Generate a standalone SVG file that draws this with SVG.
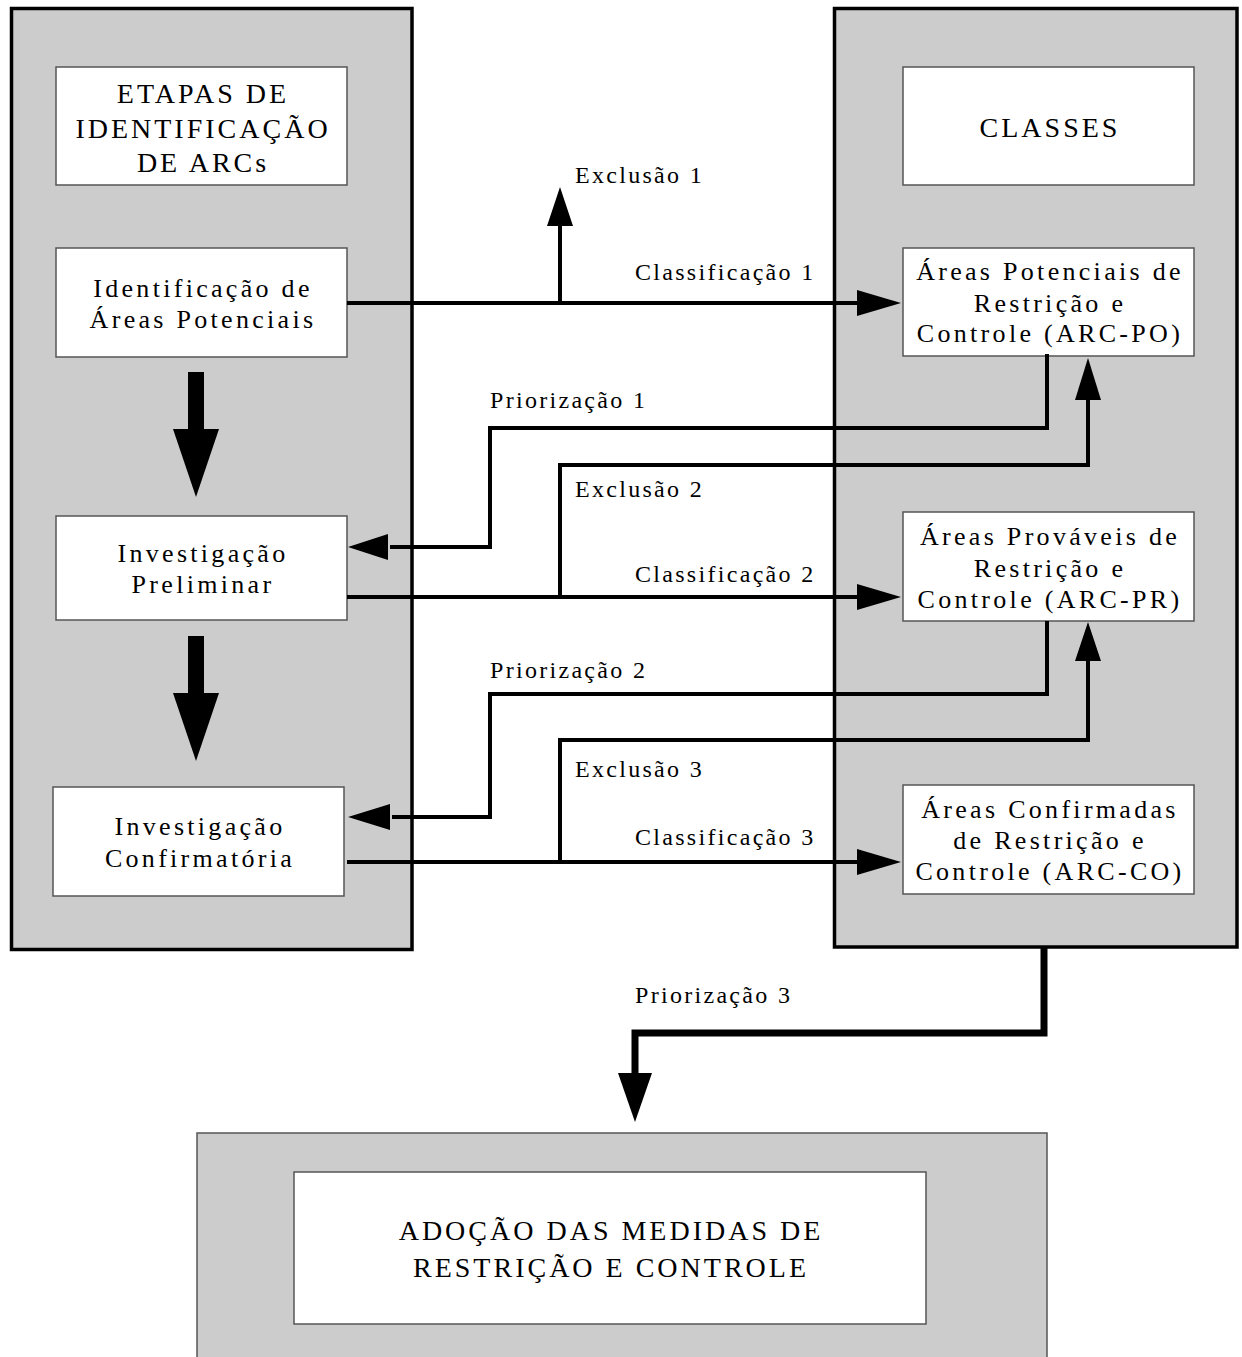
<svg xmlns="http://www.w3.org/2000/svg" width="1242" height="1357" viewBox="0 0 1242 1357">
<style>
.panel{fill:#cccccc;stroke:#000;stroke-width:3.5}
.panel2{fill:#cccccc;stroke:#555;stroke-width:1.5}
.box{fill:#fff;stroke:#555;stroke-width:1.5}
.t{font-family:"Liberation Serif","Times New Roman",serif;fill:#000}
.bt{font-size:26px;letter-spacing:3.3px;text-anchor:middle}
.ht{font-size:28px;letter-spacing:3px;text-anchor:middle}
.lb{font-size:24px;letter-spacing:2.3px}
.ln{fill:none;stroke:#000;stroke-width:4}
.ln3{fill:none;stroke:#000;stroke-width:7}
.ah{fill:#000}
</style>
<rect width="1242" height="1357" fill="#fff"/>
<g id="panel-left"><rect class="panel" x="11.5" y="8.5" width="400.5" height="941"/></g>
<g id="panel-right"><rect class="panel" x="834.5" y="8.5" width="402.5" height="938.5"/></g>
<g id="panel-bottom"><rect class="panel2" x="197" y="1133" width="850" height="240"/></g>

<g id="etapas">
<rect class="box" x="56" y="67" width="291" height="118"/>
<text class="t ht" x="203"><tspan x="203" y="103">ETAPAS DE</tspan><tspan x="203" y="138">IDENTIFICAÇÃO</tspan><tspan x="203" y="172">DE ARCs</tspan></text>
</g>
<g id="identificacao">
<rect class="box" x="56" y="248" width="291" height="109"/>
<text class="t bt"><tspan x="203" y="297">Identificação de</tspan><tspan x="203" y="328">Áreas Potenciais</tspan></text>
</g>
<g id="inv-preliminar">
<rect class="box" x="56" y="516" width="291" height="104"/>
<text class="t bt"><tspan x="203" y="562">Investigação</tspan><tspan x="203" y="593">Preliminar</tspan></text>
</g>
<g id="inv-confirmatoria">
<rect class="box" x="53" y="787" width="291" height="109"/>
<text class="t bt"><tspan x="200" y="835">Investigação</tspan><tspan x="200" y="867">Confirmatória</tspan></text>
</g>

<g id="classes">
<rect class="box" x="903" y="67" width="291" height="118"/>
<text class="t ht" x="1050" y="137">CLASSES</text>
</g>
<g id="arc-po">
<rect class="box" x="903" y="248" width="291" height="108"/>
<text class="t bt"><tspan x="1050" y="280">Áreas Potenciais de</tspan><tspan x="1050" y="312">Restrição e</tspan><tspan x="1050" y="342">Controle (ARC-PO)</tspan></text>
</g>
<g id="arc-pr">
<rect class="box" x="903" y="512" width="291" height="109"/>
<text class="t bt"><tspan x="1050" y="545">Áreas Prováveis de</tspan><tspan x="1050" y="577">Restrição e</tspan><tspan x="1050" y="608">Controle (ARC-PR)</tspan></text>
</g>
<g id="arc-co">
<rect class="box" x="903" y="785" width="291" height="109"/>
<text class="t bt"><tspan x="1050" y="818">Áreas Confirmadas</tspan><tspan x="1050" y="849">de Restrição e</tspan><tspan x="1050" y="880">Controle (ARC-CO)</tspan></text>
</g>

<g id="adocao">
<rect class="box" x="294" y="1172" width="632" height="152"/>
<text class="t ht"><tspan x="611" y="1240">ADOÇÃO DAS MEDIDAS DE</tspan><tspan x="611" y="1277">RESTRIÇÃO E CONTROLE</tspan></text>
</g>

<g id="connectors">
<!-- big down arrows -->
<rect class="ah" x="188" y="372" width="16" height="58"/>
<polygon class="ah" points="173,429 219,429 196,497"/>
<rect class="ah" x="188" y="636" width="16" height="58"/>
<polygon class="ah" points="173,693 219,693 196,761"/>

<!-- row 1 -->
<line class="ln" x1="347" y1="303" x2="860" y2="303"/>
<polygon class="ah" points="857,290 901,303 857,316"/>
<line class="ln" x1="560" y1="305" x2="560" y2="224"/>
<polygon class="ah" points="547,226 560,187 573,226"/>

<polyline class="ln" points="1047,354 1047,428 490,428 490,547 390,547"/>
<polygon class="ah" points="388,534 348,547 388,560"/>
<polyline class="ln" points="560,597 560,465 1088,465 1088,398"/>
<polygon class="ah" points="1075,400 1088,358 1101,400"/>

<!-- row 2 -->
<line class="ln" x1="347" y1="597" x2="860" y2="597"/>
<polygon class="ah" points="857,584 901,597 857,610"/>

<polyline class="ln" points="1047,621 1047,694 490,694 490,817 392,817"/>
<polygon class="ah" points="390,804 348,817 390,830"/>
<polyline class="ln" points="560,862 560,740 1088,740 1088,659"/>
<polygon class="ah" points="1075,661 1088,622 1101,661"/>

<!-- row 3 -->
<line class="ln" x1="347" y1="862" x2="860" y2="862"/>
<polygon class="ah" points="857,849 901,862 857,875"/>

<!-- priorizacao 3 -->
<polyline class="ln3" points="1044,947 1044,1033 635,1033 635,1075"/>
<polygon class="ah" points="618,1073 635,1122 652,1073"/>

<!-- labels -->
<text class="t lb" x="575" y="183">Exclusão 1</text>
<text class="t lb" x="635" y="280">Classificação 1</text>
<text class="t lb" x="490" y="408">Priorização 1</text>
<text class="t lb" x="575" y="497">Exclusão 2</text>
<text class="t lb" x="635" y="582">Classificação 2</text>
<text class="t lb" x="490" y="678">Priorização 2</text>
<text class="t lb" x="575" y="777">Exclusão 3</text>
<text class="t lb" x="635" y="845">Classificação 3</text>
<text class="t lb" x="635" y="1003">Priorização 3</text>
</g>
</svg>
